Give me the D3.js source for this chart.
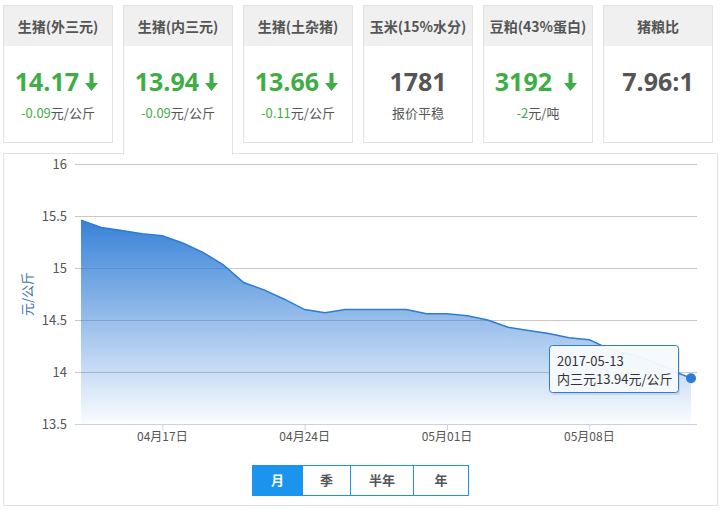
<!DOCTYPE html>
<html>
<head>
<meta charset="utf-8">
<script src="https://cdn.jsdelivr.net/npm/d3@7"></script>
<style>
  body { margin: 0; background: #fff; }
  text { font-family: "Noto Sans CJK SC", "Open Sans", sans-serif; }
</style>
</head>
<body>
<div id="canvas"></div>
<script>
// cards on top
const cardTitles = ["生猪(外三元)", "生猪(内三元)", "生猪(土杂猪)", "玉米(15%水分)", "豆粕(43%蛋白)", "猪粮比"];
const cardValues = ["14.17", "13.94", "13.66", "1781", "3192", "7.96:1"];
const cardNotes = ["-0.09元/公斤", "-0.09元/公斤", "-0.11元/公斤", "报价平稳", "-2元/吨", ""];
const cardDown = [true, true, true, false, true, false];

// series: 2017-04-13 .. 2017-05-13, daily
const dates = d3.timeDays(new Date(2017, 3, 13), new Date(2017, 4, 14));
const prices = [15.46, 15.39, 15.36, 15.33, 15.31, 15.24, 15.15, 15.03, 14.86, 14.79,
  14.70, 14.60, 14.57, 14.60, 14.60, 14.60, 14.60, 14.56, 14.56, 14.54,
  14.50, 14.43, 14.40, 14.37, 14.33, 14.31, 14.22, 14.17, 14.11, 14.02, 13.94];
const yTicks = [13.5, 14, 14.5, 15, 15.5, 16];
const xTickDates = [new Date(2017, 3, 17), new Date(2017, 3, 24), new Date(2017, 4, 1), new Date(2017, 4, 8)];
const buttons = ["月", "季", "半年", "年"];

const width = 720;
const height = 510;
const svg = d3.select("#canvas").append("svg").attr("width", width).attr("height", height);

const green = "#3fad46";
const cardW = 109, cardGap = 11, cardX0 = 3;

// chart panel
svg.append("rect").attr("x", 3.5).attr("y", 153.5).attr("width", 714).attr("height", 352)
  .attr("fill", "#fff").attr("stroke", "#e2e2e2");

cardTitles.forEach((t, i) => {
  const x = cardX0 + i * (cardW + cardGap);
  const g = svg.append("g").attr("transform", `translate(${x}, 5)`);
  const sel = i === 1;
  const h = sel ? 149 : 137;
  g.append("rect").attr("x", 0.5).attr("y", 0.5).attr("width", cardW).attr("height", h)
    .attr("fill", "#fff").attr("stroke", "#e2e2e2");
  g.append("rect").attr("x", 1).attr("y", 1).attr("width", cardW - 1).attr("height", 40)
    .attr("fill", "#f0f0f0");
  if (sel) {
    g.append("rect").attr("x", 1).attr("y", 140).attr("width", cardW - 1).attr("height", 12).attr("fill", "#fff");
  }
  g.append("text").attr("x", cardW / 2 + 0.5).attr("y", 27).attr("text-anchor", "middle")
    .style("font-size", "14px").style("font-weight", "bold").attr("fill", "#555").text(t);
  g.append("text")
    .attr("x", cardDown[i] ? (i === 4 ? 69 : 76) : cardW / 2 + 0.5).attr("y", 86)
    .attr("text-anchor", cardDown[i] ? "end" : "middle")
    .style("font-size", "25px").style("font-weight", "bold")
    .style("font-family", "'Open Sans', sans-serif")
    .attr("fill", cardDown[i] ? green : "#555").text(cardValues[i]);
  if (cardDown[i]) {
    const ax = i === 4 ? 87.5 : 88.5;
    g.append("path")
      .attr("d", `M${ax - 2},68 h4 v10 h4.5 l-6.5,8 l-6.5,-8 h4.5 z`)
      .attr("fill", green);
  }
  if (cardNotes[i]) {
    const note = g.append("text").attr("x", cardW / 2 + 0.5).attr("y", 113).attr("text-anchor", "middle")
      .style("font-size", "13px").attr("fill", "#555");
    const m = cardNotes[i].match(/^(-?[\d.]+)(.*)$/);
    if (m) {
      note.append("tspan").attr("fill", green).text(m[1]);
      note.append("tspan").text(m[2]);
    } else {
      note.text(cardNotes[i]);
    }
  }
});

// chart
const x = d3.scaleTime().domain([dates[0], dates[dates.length - 1]]).range([81, 691]);
const y = d3.scaleLinear().domain([13.5, 16]).range([424, 164]);

const grad = svg.append("defs").append("linearGradient").attr("id", "fillg")
  .attr("x1", 0).attr("y1", 0).attr("x2", 0).attr("y2", 1);
grad.append("stop").attr("offset", "0%").attr("stop-color", "#2d7bd6");
grad.append("stop").attr("offset", "100%").attr("stop-color", "#2d7bd6").attr("stop-opacity", 0.02);

svg.append("g").selectAll("line").data(yTicks).enter().append("line")
  .attr("x1", 75).attr("x2", 697).attr("y1", (d) => y(d) + 0.5).attr("y2", (d) => y(d) + 0.5)
  .attr("stroke", (d) => (d === 13.5 ? "#c8d2e0" : "#c8c8c8"));

svg.append("path").datum(prices)
  .attr("d", d3.area().x((d, i) => x(dates[i])).y0(y(13.5)).y1((d) => y(d)))
  .attr("fill", "url(#fillg)").attr("fill-opacity", 0.95);
svg.append("path").datum(prices)
  .attr("d", d3.line().x((d, i) => x(dates[i])).y((d) => y(d)))
  .attr("fill", "none").attr("stroke", "#2d7bd6").attr("stroke-width", 1.5);

svg.append("g").selectAll("text").data(yTicks).enter().append("text")
  .attr("x", 67).attr("y", (d) => y(d) + 5).attr("text-anchor", "end")
  .style("font-size", "13px").attr("fill", "#555").text((d) => d);

const xAxis = svg.append("g");
xAxis.selectAll("line").data(xTickDates).enter().append("line")
  .attr("x1", (d) => x(d) + 0.5).attr("x2", (d) => x(d) + 0.5).attr("y1", 424).attr("y2", 430)
  .attr("stroke", "#c8d2e0");
xAxis.selectAll("text").data(xTickDates).enter().append("text")
  .attr("x", (d) => x(d)).attr("y", 441).attr("text-anchor", "middle")
  .style("font-size", "12px").attr("fill", "#555")
  .text((d) => d3.timeFormat("%m月%d日")(d));

svg.append("text").attr("transform", "translate(32, 294) rotate(-90)").attr("text-anchor", "middle")
  .style("font-size", "13px").attr("fill", "#3b6db0").text("元/公斤");

// last point + tooltip
const last = prices.length - 1;
svg.append("circle").attr("cx", x(dates[last])).attr("cy", y(prices[last])).attr("r", 5)
  .attr("fill", "#2d7bd6");
const tip = svg.append("g").attr("transform", "translate(549, 345)");
tip.append("rect").attr("x", 2).attr("y", 2).attr("width", 129).attr("height", 48).attr("rx", 3)
  .attr("fill", "#000").attr("opacity", 0.08);
tip.append("rect").attr("x", 0.5).attr("y", 0.5).attr("width", 129).attr("height", 47).attr("rx", 3)
  .attr("fill", "#f8fbfe").attr("fill-opacity", 0.95).attr("stroke", "#2d7bd6");
tip.append("text").attr("x", 8).attr("y", 21).style("font-size", "13px").attr("fill", "#333")
  .text(d3.timeFormat("%Y-%m-%d")(dates[last]));
tip.append("text").attr("x", 8).attr("y", 39).style("font-size", "13px").attr("fill", "#333")
  .text(`内三元${prices[last]}元/公斤`);

// range buttons
const bx = [252, 302, 350, 413, 468];
const bg = svg.append("g");
buttons.forEach((b, i) => {
  bg.append("rect").attr("x", bx[i] + 0.5).attr("y", 465.5).attr("width", bx[i + 1] - bx[i]).attr("height", 30)
    .attr("fill", i === 0 ? "#1a94ec" : "#fff").attr("stroke", "#1a94ec");
  bg.append("text").attr("x", (bx[i] + bx[i + 1]) / 2 + 0.5).attr("y", 485).attr("text-anchor", "middle")
    .style("font-size", "13px").style("font-weight", "bold")
    .attr("fill", i === 0 ? "#fff" : "#555").text(b);
});
</script>
</body>
</html>
